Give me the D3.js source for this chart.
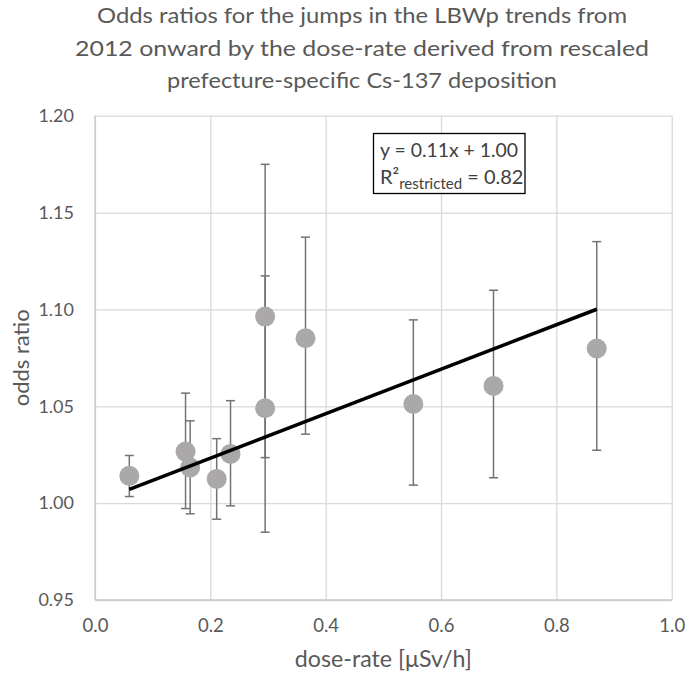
<!DOCTYPE html>
<html><head><meta charset="utf-8">
<script src="https://cdn.jsdelivr.net/npm/d3@7"></script>
<style>
html,body{margin:0;padding:0;background:#fff;}
text{font-family:Lato,"Open Sans",sans-serif;}
</style></head>
<body>
<svg id="c" width="685" height="676"></svg>
<script>
// ---- data ----
const titleLines = [
  "Odds ratios for the jumps in the LBWp trends from",
  "2012 onward by the dose-rate derived from rescaled",
  "prefecture-specific Cs-137 deposition"
];
const doseRate = [0.0595, 0.157, 0.165, 0.211, 0.235, 0.295, 0.295, 0.365, 0.552, 0.691, 0.870];
const oddsRatio = [1.0141, 1.0266, 1.0184, 1.0125, 1.0254, 1.0490, 1.0963, 1.0851, 1.0512, 1.0605, 1.0798];
const ciLow  = [1.0034, 0.9972, 0.9945, 0.9917, 0.9986, 0.9850, 1.0235, 1.0356, 1.0093, 1.0131, 1.0273];
const ciHigh = [1.0246, 1.0568, 1.0425, 1.0333, 1.0529, 1.1173, 1.1749, 1.1373, 1.0946, 1.1099, 1.1350];
const trendSlope = 0.1147;
const trendIntercept = 1.0003;
const xTicks = [0.0, 0.2, 0.4, 0.6, 0.8, 1.0];
const yTicks = [0.95, 1.00, 1.05, 1.10, 1.15, 1.20];
const xGrid = [0.0, 0.2, 0.4, 0.6, 0.8, 1.0];

const svg = d3.select("#c");
const L = 95, R = 671.7, T = 115.7, B = 600;
const x = d3.scaleLinear().domain([0, 1]).range([L, R]);
const y = d3.scaleLinear().domain([0.95, 1.20]).range([B, T]);

// gridlines
const gy = svg.append("g").attr("transform", `translate(${L},0)`)
  .call(d3.axisLeft(y).tickValues(yTicks).tickSize(-(R - L)).tickFormat(""));
gy.select(".domain").remove();
gy.selectAll(".tick line").attr("stroke", "#d9d9d9").attr("stroke-width", 1.3);
const gx = svg.append("g").attr("transform", `translate(0,${B})`)
  .call(d3.axisBottom(x).tickValues(xGrid).tickSize(-(B - T)).tickFormat(""));
gx.select(".domain").remove();
gx.selectAll(".tick line").attr("stroke", "#d9d9d9").attr("stroke-width", 1.3);
// axis lines
svg.append("line").attr("x1", L).attr("x2", L).attr("y1", T).attr("y2", B).attr("stroke", "#c8c8c8").attr("stroke-width", 1.3);
svg.append("line").attr("x1", L).attr("x2", R).attr("y1", B).attr("y2", B).attr("stroke", "#c8c8c8").attr("stroke-width", 1.3);

// tick labels
const ay = svg.append("g").attr("transform", `translate(${L},0)`)
  .call(d3.axisLeft(y).tickValues(yTicks).tickSize(0).tickPadding(21).tickFormat(d3.format(".2f")));
ay.select(".domain").remove();
ay.selectAll("text").attr("fill", "#595959").style("font-size", "18px").style("font-family", "Lato,'Open Sans',sans-serif");
const ax = svg.append("g").attr("transform", `translate(0,${B})`)
  .call(d3.axisBottom(x).tickValues(xTicks).tickSize(0).tickPadding(19).tickFormat(d3.format(".1f")));
ax.select(".domain").remove();
ax.selectAll("text").attr("fill", "#595959").style("font-size", "18.5px").style("font-family", "Lato,'Open Sans',sans-serif");

// error bars
const idx = d3.range(doseRate.length);
const eb = svg.append("g").attr("stroke", "#737373").attr("stroke-width", 1.5);
idx.forEach(i => {
  const cx = x(doseRate[i]);
  eb.append("line").attr("x1", cx).attr("x2", cx).attr("y1", y(ciLow[i])).attr("y2", y(ciHigh[i]));
  eb.append("line").attr("x1", cx - 4.5).attr("x2", cx + 4.5).attr("y1", y(ciLow[i])).attr("y2", y(ciLow[i]));
  eb.append("line").attr("x1", cx - 4.5).attr("x2", cx + 4.5).attr("y1", y(ciHigh[i])).attr("y2", y(ciHigh[i]));
});

// points
svg.append("g").selectAll("circle").data(idx).join("circle")
  .attr("cx", i => x(doseRate[i])).attr("cy", i => y(oddsRatio[i])).attr("r", 10)
  .attr("fill", "#aaa8a8");

// trend line
const xmin = d3.min(doseRate), xmax = d3.max(doseRate);
svg.append("line")
  .attr("x1", x(xmin)).attr("y1", y(trendIntercept + trendSlope * xmin))
  .attr("x2", x(xmax)).attr("y2", y(trendIntercept + trendSlope * xmax))
  .attr("stroke", "#000").attr("stroke-width", 3.5);

// equation box
svg.append("rect").attr("x", 373.5).attr("y", 133.5).attr("width", 151.5).attr("height", 60)
  .attr("fill", "#fff").attr("stroke", "#000").attr("stroke-width", 1.3);
svg.append("text").attr("x", 380).attr("y", 157).attr("fill", "#404040").style("font-size", "20px")
  .attr("textLength", 138).attr("lengthAdjust", "spacingAndGlyphs")
  .text("y = 0.11x + 1.00");
const t2 = svg.append("text").attr("x", 380).attr("y", 184).attr("fill", "#404040").style("font-size", "20px");
t2.append("tspan").text("R²");
t2.append("tspan").attr("dy", 5).style("font-size", "15px").text("restricted");
t2.append("tspan").attr("dy", -5).text(" = 0.82");

// title
const titleW = [530, 574, 390];
const titleY = [23, 56, 88];
titleLines.forEach((s, i) => {
  svg.append("text").attr("x", 362).attr("y", titleY[i]).attr("text-anchor", "middle")
    .attr("fill", "#595959").style("font-size", "22px")
    .attr("textLength", titleW[i]).attr("lengthAdjust", "spacingAndGlyphs").text(s);
});

// axis titles
svg.append("text").attr("x", (L + R) / 2).attr("y", 667).attr("text-anchor", "middle")
  .attr("fill", "#595959").style("font-size", "23px")
  .attr("textLength", 177).attr("lengthAdjust", "spacingAndGlyphs").text("dose-rate [μSv/h]");
svg.append("text").attr("transform", `translate(29,${(T + B) / 2}) rotate(-90)`).attr("text-anchor", "middle")
  .attr("fill", "#595959").style("font-size", "22px").text("odds ratio");
</script>
</body></html>
